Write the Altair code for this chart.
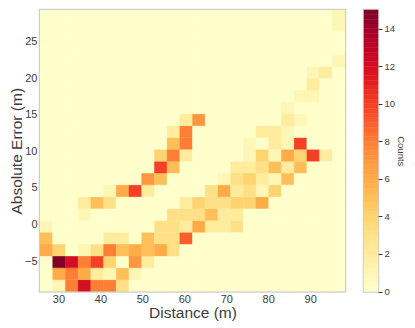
import altair as alt
import pandas as pd

x_domain = [25.6, 98.3]
y_full = [-9.15, 29.7]
y_domain = [-9.15, 29.31]
n = 24

r0  = [0,1,8,12,8,8,3,0,0,0,0,0,0,0,0,0,0,0,0,0,0,0,0,0]
r1  = [0,6,8,6,2,1,5,1,0,0,0,0,0,0,0,0,0,0,0,0,0,0,0,0]
r2  = [0,15,12,8,10,4,0,7,2,0,0,0,0,0,0,0,0,0,0,0,0,0,0,0]
r3  = [6,4,0,1,3,8,5,6,5,6,3,0,0,0,0,0,0,0,0,0,0,0,0,0]
r4  = [5,0,0,0,0,2,2,0,5,3,3,9,0,0,0,0,0,0,0,0,0,0,0,0]
r5  = [1,0,0,0,0,0,0,0,0,3,3,2,6,2,2,3,0,0,0,0,0,0,0,0]
r6  = [0,0,0,1,0,0,0,0,0,0,3,3,3,5,2,2,0,0,0,0,0,0,0,0]
r7  = [0,0,0,2,5,3,0,0,0,0,0,2,4,3,3,4,4,6,0,0,0,0,0,0]
r8  = [0,0,0,0,0,1,6,10,2,0,0,0,0,3,6,2,3,1,4,0,0,0,0,0]
r9  = [0,0,0,0,0,0,0,0,7,5,0,0,0,0,1,3,4,2,1,5,0,0,0,0]
r10 = [0,0,0,0,0,0,0,0,0,10,5,0,0,0,0,2,2,3,5,2,5,0,0,0]
r11 = [0,0,0,0,0,0,0,0,0,4,8,2,0,0,0,0,1,4,1,6,4,10,2,0]
r12 = [0,0,0,0,0,0,0,0,0,0,5,8,0,0,0,0,1,0,2,1,10,0,0,0]
r13 = [0,0,0,0,0,0,0,0,0,0,2,8,0,0,0,0,0,2,2,1,0,0,0,0]
r14 = [0,0,0,0,0,0,0,0,0,0,0,2,7,0,0,0,0,0,0,2,1,0,0,0]
r15 = [0,0,0,0,0,0,0,0,0,0,0,0,0,0,0,0,0,0,0,1,0,0,0,0]
r16 = [0,0,0,0,0,0,0,0,0,0,0,0,0,0,0,0,0,0,0,0,1,1,0,0]
r17 = [0,0,0,0,0,0,0,0,0,0,0,0,0,0,0,0,0,0,0,0,0,2,0,0]
r18 = [0,0,0,0,0,0,0,0,0,0,0,0,0,0,0,0,0,0,0,0,0,1,2,0]
r19 = [0,0,0,0,0,0,0,0,0,0,0,0,0,0,0,0,0,0,0,0,0,0,0,1]
r20 = [0]*24
r21 = [0]*24
r22 = [0,0,0,0,0,0,0,0,0,0,0,0,0,0,0,0,0,0,0,0,0,0,0,1]
r23 = [0,0,0,0,0,0,0,0,0,0,0,0,0,0,0,0,0,0,0,0,0,0,0,1]
rows = [r0,r1,r2,r3,r4,r5,r6,r7,r8,r9,r10,r11,r12,r13,r14,r15,r16,r17,r18,r19,r20,r21,r22,r23]

palette = ["#ffffcc","#ffeda0","#fed976","#feb24c","#fd8d3c","#fc4e2a","#e31a1c","#bd0026","#800026"]
x_ticks = [30,40,50,60,70,80,90]
y_ticks = [-5,0,5,10,15,20,25]
bar_ticks = [0,2,4,6,8,10,12,14]

dx = (x_domain[1]-x_domain[0])/n
dy = (y_full[1]-y_full[0])/n
records = []
for ri, row in enumerate(rows):
    for ci, v in enumerate(row):
        records.append(dict(x=x_domain[0]+ci*dx, x2=x_domain[0]+(ci+1)*dx,
                            y=y_full[0]+ri*dy, y2=y_full[0]+(ri+1)*dy, c=v))
df = pd.DataFrame(records)

color_scale = alt.Scale(domain=[i*15/8 for i in range(9)], range=palette)
FONT = "Liberation Sans"
TXT = "#3c3c3c"

heat = alt.Chart(df).mark_rect(clip=True, strokeWidth=0.4).encode(
    x=alt.X("x:Q", scale=alt.Scale(domain=x_domain, nice=False, zero=False),
            axis=alt.Axis(values=x_ticks, title="Distance (m)", grid=False, ticks=False, domain=False,
                          labelFontSize=11, labelColor=TXT, labelPadding=2, titleFontSize=15.5,
                          titleFontWeight="normal", titleColor=TXT, titlePadding=1, labelFont=FONT, titleFont=FONT)),
    x2="x2:Q",
    y=alt.Y("y:Q", scale=alt.Scale(domain=y_domain, nice=False, zero=False),
            axis=alt.Axis(values=y_ticks, title="Absolute Error (m)", grid=False, ticks=False, domain=False,
                          labelFontSize=11, labelColor=TXT, labelPadding=3, titleFontSize=15.5,
                          titleFontWeight="normal", titleColor=TXT, titlePadding=0, labelFont=FONT, titleFont=FONT)),
    y2="y2:Q",
    color=alt.Color("c:Q", scale=color_scale, legend=None),
    stroke=alt.Stroke("c:Q", scale=color_scale, legend=None),
).properties(width=305, height=281.5)

bar_levels = [i/4 for i in range(60)]
bar_df = pd.DataFrame({"c": bar_levels, "c2": [v+0.25 for v in bar_levels],
                       "mid": [v+0.125 for v in bar_levels]})
bar = alt.Chart(bar_df).mark_rect(strokeWidth=0.4).encode(
    x=alt.value(0), x2=alt.value(14),
    y=alt.Y("c:Q", scale=alt.Scale(domain=[0,15], nice=False, zero=False),
            axis=alt.Axis(values=bar_ticks, orient="right", title="Counts", grid=False, domain=False,
                          tickColor=TXT, tickSize=4, tickWidth=1, labelFontSize=9.5, labelColor=TXT, labelPadding=2,
                          titleFontSize=9.5, titleFontWeight="normal", titleColor=TXT, titlePadding=1,
                          labelFont=FONT, titleFont=FONT)),
    y2="c2:Q",
    color=alt.Color("mid:Q", scale=color_scale, legend=None),
    stroke=alt.Stroke("mid:Q", scale=color_scale, legend=None),
).properties(width=14, height=281.5)

chart = alt.hconcat(heat, bar, spacing=15).properties(padding=0).configure_view(
    stroke="#cfcfcf", strokeWidth=2.5
).configure_concat(spacing=15)

chart.save("out.html", embed_options={"renderer": "svg", "actions": False})
